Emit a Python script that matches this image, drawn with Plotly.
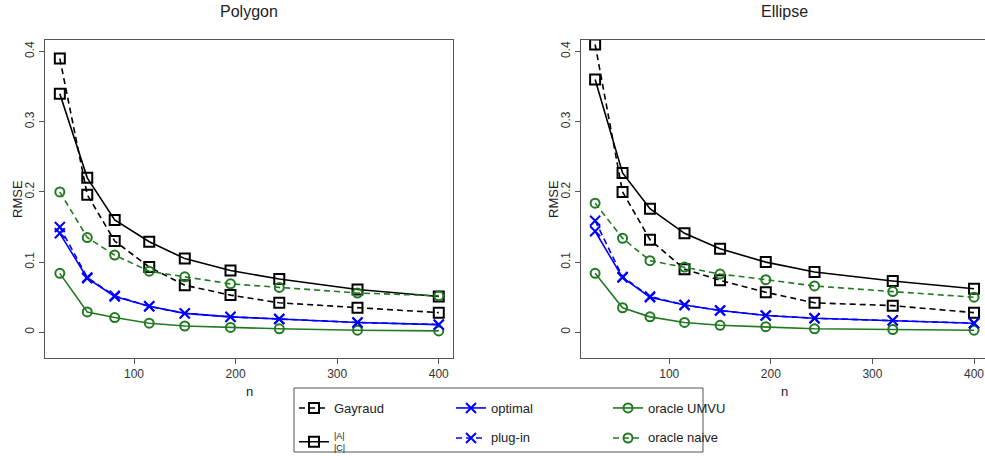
import plotly.graph_objects as go

n_vals = [27, 54, 81, 115, 150, 195, 243, 320, 400]

# Polygon panel
poly_gayraud = [0.390, 0.196, 0.130, 0.093, 0.067, 0.053, 0.042, 0.035, 0.028]
poly_ac = [0.340, 0.220, 0.160, 0.129, 0.105, 0.088, 0.076, 0.061, 0.051]
poly_optimal = [0.141, 0.077, 0.051, 0.037, 0.027, 0.022, 0.019, 0.014, 0.011]
poly_plugin = [0.150, 0.078, 0.052, 0.037, 0.027, 0.022, 0.019, 0.014, 0.011]
poly_umvu = [0.084, 0.029, 0.021, 0.013, 0.009, 0.007, 0.005, 0.003, 0.002]
poly_naive = [0.200, 0.135, 0.110, 0.087, 0.079, 0.069, 0.064, 0.056, 0.052]

# Ellipse panel
ell_gayraud = [0.410, 0.200, 0.132, 0.090, 0.074, 0.057, 0.042, 0.038, 0.028]
ell_ac = [0.360, 0.227, 0.176, 0.141, 0.119, 0.100, 0.086, 0.073, 0.062]
ell_optimal = [0.144, 0.078, 0.050, 0.039, 0.031, 0.024, 0.020, 0.017, 0.013]
ell_plugin = [0.159, 0.079, 0.051, 0.039, 0.031, 0.024, 0.020, 0.017, 0.013]
ell_umvu = [0.084, 0.035, 0.022, 0.014, 0.010, 0.008, 0.005, 0.004, 0.003]
ell_naive = [0.184, 0.134, 0.102, 0.093, 0.083, 0.075, 0.066, 0.058, 0.050]

titles = ["Polygon", "Ellipse"]
y_ticks = [0, 0.1, 0.2, 0.3, 0.4]
y_ticktext = ["0", "0.1", "0.2", "0.3", "0.4"]
x_ticks = [100, 200, 300, 400]

names = ["Gayraud", "optimal", "oracle UMVU",
         "|A|<br>|C|",
         "<span style='font-size:13px'>plug-in</span>",
         "<span style='font-size:13px'>oracle naive</span>"]

BLACK = "#000000"
BLUE = "#0000ff"
GREEN = "#217a21"
DASH = "6px,4px"

styles = [
    dict(color=BLACK, dash=DASH, symbol="square-open", size=10),
    dict(color=BLUE, dash="solid", symbol="x-thin-open", size=10),
    dict(color=GREEN, dash="solid", symbol="circle-open", size=9),
    dict(color=BLACK, dash="solid", symbol="square-open", size=10),
    dict(color=BLUE, dash=DASH, symbol="x-thin-open", size=10),
    dict(color=GREEN, dash=DASH, symbol="circle-open", size=9),
]

panels = [
    [poly_gayraud, poly_optimal, poly_umvu, poly_ac, poly_plugin, poly_naive],
    [ell_gayraud, ell_optimal, ell_umvu, ell_ac, ell_plugin, ell_naive],
]

fig = go.Figure()
for p, series in enumerate(panels):
    xa = "x" if p == 0 else "x2"
    ya = "y" if p == 0 else "y2"
    for i, (vals, st, nm) in enumerate(zip(series, styles, names)):
        fig.add_trace(go.Scatter(
            x=n_vals, y=vals, mode="lines+markers", name=nm,
            xaxis=xa, yaxis=ya,
            line=dict(color=st["color"], dash=st["dash"], width=1.6),
            marker=dict(symbol=st["symbol"], size=st["size"], color=st["color"],
                        line=dict(width=2, color=st["color"])),
            showlegend=(p == 0),
            legend="legend" if i < 3 else "legend2",
        ))

axis_common = dict(showline=True, mirror=True, linecolor="#555555", linewidth=1,
                   ticks="outside", ticklen=5, tickcolor="#555555", showgrid=False,
                   zeroline=False, automargin=False,
                   tickfont=dict(size=12, color="#333333"))

fig.update_layout(
    width=985, height=456,
    margin=dict(l=0, r=0, t=0, b=0, autoexpand=False),
    paper_bgcolor="white", plot_bgcolor="white",
    font=dict(family="Liberation Sans, Arial, sans-serif", color="#222222"),
    xaxis=dict(domain=[45 / 985, 453 / 985], range=[12.4, 414], tickvals=x_ticks,
               anchor="y", **axis_common),
    yaxis=dict(domain=[1 - 358 / 456, 1 - 40 / 456], range=[-0.0366, 0.4164],
               tickvals=y_ticks, ticktext=y_ticktext, tickangle=-90, anchor="x",
               **axis_common),
    xaxis2=dict(domain=[580.7 / 985, 1.0], range=[12.8, 410.8], tickvals=x_ticks,
                anchor="y2", **axis_common),
    yaxis2=dict(domain=[1 - 358 / 456, 1 - 40 / 456], range=[-0.0366, 0.4164],
                tickvals=y_ticks, ticktext=y_ticktext, tickangle=-90, anchor="x2",
                **axis_common),
    legend=dict(orientation="h", x=294 / 985, y=1 - 408 / 456, xanchor="left",
                yanchor="middle", entrywidth=112, entrywidthmode="pixels",
                itemwidth=30, font=dict(size=13, color="#222222"),
                bgcolor="rgba(0,0,0,0)", borderwidth=0),
    legend2=dict(orientation="h", x=294 / 985, y=1 - 442 / 456, xanchor="left",
                 yanchor="middle", entrywidth=112, entrywidthmode="pixels",
                 itemwidth=30, font=dict(size=9, color="#222222"),
                 bgcolor="rgba(0,0,0,0)", borderwidth=0),
)

# legend frame
fig.add_shape(type="rect", xref="paper", yref="paper",
              x0=294 / 985, x1=703 / 985, y0=1 - 452 / 456, y1=1 - 388 / 456,
              line=dict(color="#555555", width=1))

centers = [(45 + 453) / 2 / 985, (580.7 + 988) / 2 / 985]
for c, t in zip(centers, titles):
    fig.add_annotation(text=t, x=c, y=1 - 12 / 456, xref="paper", yref="paper",
                       xanchor="center", yanchor="middle",
                       showarrow=False, font=dict(size=16, color="#222222"))
    fig.add_annotation(text="n", x=c, y=1 - 391 / 456, xref="paper", yref="paper",
                       xanchor="center", yanchor="middle",
                       showarrow=False, font=dict(size=13, color="#222222"))
for xpx in [17, 553]:
    fig.add_annotation(text="RMSE", x=xpx / 985, y=1 - 199 / 456, xref="paper",
                       yref="paper", showarrow=False, textangle=-90,
                       xanchor="center", yanchor="middle",
                       font=dict(size=13, color="#222222"))

fig.write_html("out.html", config={"displayModeBar": False},
               post_script="document.body.style.margin='0';document.body.style.overflow='hidden';")
